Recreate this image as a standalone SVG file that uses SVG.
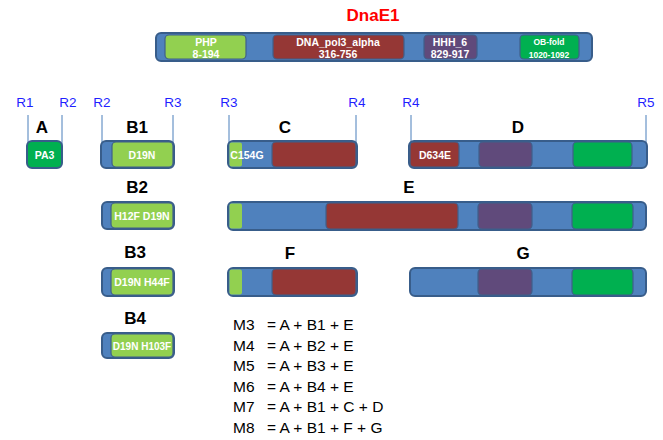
<svg xmlns="http://www.w3.org/2000/svg" width="663" height="440" viewBox="0 0 663 440">
<style>
.bar{fill:#4F81BD;stroke:#385D8A;stroke-width:2}
.seg{stroke:#3F5F8A;stroke-width:1.2}
.g{fill:#92D050}.r{fill:#953735}.p{fill:#604A7B}.o{fill:#00B050}
.wt{font-family:"Liberation Sans",Arial,sans-serif;font-weight:bold;fill:#fff;text-anchor:middle}
.lb{font-family:"Liberation Sans",Arial,sans-serif;font-weight:bold;font-size:17px;fill:#000;text-anchor:middle}
.rl{font-family:"Liberation Sans",Arial,sans-serif;font-size:13.5px;fill:#1F1FFF;text-anchor:middle}
.tick{stroke:#4A7EBB;stroke-width:1}
.fm{font-family:"Liberation Sans",Arial,sans-serif;font-size:15.5px;fill:#000}
</style>
<text x="373" y="21" font-family="Liberation Sans, Arial, sans-serif" font-weight="bold" font-size="17" fill="#FF0000" text-anchor="middle">DnaE1</text>
<g id="dnae1">
<rect class="bar" x="156" y="33" width="436" height="28" rx="5"/>
<rect class="seg g" x="165" y="35" width="81" height="24" rx="4"/>
<rect class="seg r" x="273" y="35" width="131" height="24" rx="4"/>
<rect class="seg p" x="424" y="35" width="53" height="24" rx="4"/>
<rect class="seg o" x="520" y="35" width="59" height="24" rx="4"/>
<text class="wt" x="206" y="45.5" font-size="10.5">PHP</text>
<text class="wt" x="206" y="58" font-size="10.5">8-194</text>
<text class="wt" x="338" y="45.5" font-size="10.5">DNA_pol3_alpha</text>
<text class="wt" x="338" y="58" font-size="10.5">316-756</text>
<text class="wt" x="450" y="45.5" font-size="10.5">HHH_6</text>
<text class="wt" x="450" y="58" font-size="10.5">829-917</text>
<text class="wt" x="549" y="45" font-size="8.5">OB-fold</text>
<text class="wt" x="549" y="58" font-size="8.5">1020-1092</text>
</g>
<g id="connectors">
<line class="tick" x1="28" y1="115" x2="28" y2="150"/>
<line class="tick" x1="62" y1="115" x2="62" y2="150"/>
<line class="tick" x1="102" y1="115" x2="102" y2="150"/>
<line class="tick" x1="173" y1="115" x2="173" y2="150"/>
<line class="tick" x1="229" y1="115" x2="229" y2="150"/>
<line class="tick" x1="356" y1="115" x2="356" y2="150"/>
<line class="tick" x1="411" y1="115" x2="411" y2="150"/>
<line class="tick" x1="646" y1="115" x2="646" y2="150"/>
</g>
<g id="rlabels">
<text class="rl" x="25" y="107">R1</text>
<text class="rl" x="68" y="107">R2</text>
<text class="rl" x="102" y="107">R2</text>
<text class="rl" x="173" y="107">R3</text>
<text class="rl" x="229" y="107">R3</text>
<text class="rl" x="357" y="107">R4</text>
<text class="rl" x="411" y="107">R4</text>
<text class="rl" x="646" y="107">R5</text>
</g>
<g id="A">
<text class="lb" x="42" y="133">A</text>
<rect class="bar o" x="27" y="141" width="35" height="27" rx="5"/>
<text class="wt" x="44.5" y="158.5" font-size="10.5">PA3</text>
</g>
<g id="B1">
<text class="lb" x="137" y="133">B1</text>
<rect class="bar" x="101" y="141" width="73" height="27" rx="5"/>
<rect class="seg g" x="112" y="142" width="61" height="25" rx="4"/>
<text class="wt" x="142" y="158.5" font-size="10.5">D19N</text>
</g>
<g id="C">
<text class="lb" x="285" y="133">C</text>
<rect class="bar" x="228" y="141" width="129" height="27" rx="5"/>
<rect class="g" x="229.5" y="142.5" width="12.5" height="24" rx="2"/>
<rect class="seg r" x="272" y="142" width="84" height="25" rx="4"/>
<text class="wt" x="247" y="158.5" font-size="10.5">C154G</text>
</g>
<g id="D">
<text class="lb" x="518" y="133">D</text>
<rect class="bar" x="409" y="141" width="238" height="27" rx="5"/>
<rect class="seg r" x="410" y="142" width="49" height="25" rx="4"/>
<rect class="seg p" x="479" y="142" width="53" height="25" rx="4"/>
<rect class="seg o" x="573" y="142" width="59" height="25" rx="4"/>
<text class="wt" x="435" y="158.5" font-size="10.5">D634E</text>
</g>
<g id="B2">
<text class="lb" x="137" y="193">B2</text>
<rect class="bar" x="102" y="202" width="72" height="27" rx="5"/>
<rect class="seg g" x="111" y="203" width="62" height="25" rx="4"/>
<text class="wt" x="142" y="219.5" font-size="10.5">H12F D19N</text>
</g>
<g id="E">
<text class="lb" x="409" y="193">E</text>
<rect class="bar" x="228" y="202" width="418" height="28" rx="5"/>
<rect class="g" x="229.5" y="203.5" width="12.5" height="25" rx="2"/>
<rect class="seg r" x="326" y="203" width="132" height="26" rx="4"/>
<rect class="seg p" x="478" y="203" width="54" height="26" rx="4"/>
<rect class="seg o" x="572" y="203" width="61" height="26" rx="4"/>
</g>
<g id="B3">
<text class="lb" x="135" y="258">B3</text>
<rect class="bar" x="102" y="268" width="72" height="28" rx="5"/>
<rect class="seg g" x="111" y="269" width="62" height="26" rx="4"/>
<text class="wt" x="142" y="286" font-size="10.5">D19N H44F</text>
</g>
<g id="F">
<text class="lb" x="290" y="259">F</text>
<rect class="bar" x="228" y="268" width="129" height="28" rx="5"/>
<rect class="g" x="229.5" y="269.5" width="12.5" height="25" rx="2"/>
<rect class="seg r" x="272" y="269" width="84" height="26" rx="4"/>
</g>
<g id="G">
<text class="lb" x="523" y="259">G</text>
<rect class="bar" x="410" y="268" width="236" height="28" rx="5"/>
<rect class="seg p" x="478" y="269" width="54" height="26" rx="4"/>
<rect class="seg o" x="572" y="269" width="61" height="26" rx="4"/>
</g>
<g id="B4">
<text class="lb" x="135" y="324">B4</text>
<rect class="bar" x="102" y="333" width="72" height="25" rx="5"/>
<rect class="seg g" x="111" y="334" width="62" height="23" rx="4"/>
<text class="wt" x="142" y="349.5" font-size="10">D19N H103F</text>
</g>
<g id="formulas">
<text class="fm" x="233" y="330">M3</text><text class="fm" x="267" y="330">= A + B1 + E</text>
<text class="fm" x="233" y="350.5">M4</text><text class="fm" x="267" y="350.5">= A + B2 + E</text>
<text class="fm" x="233" y="371">M5</text><text class="fm" x="267" y="371">= A + B3 + E</text>
<text class="fm" x="233" y="391.5">M6</text><text class="fm" x="267" y="391.5">= A + B4 + E</text>
<text class="fm" x="233" y="412">M7</text><text class="fm" x="267" y="412">= A + B1 + C + D</text>
<text class="fm" x="233" y="432.5">M8</text><text class="fm" x="267" y="432.5">= A + B1 + F + G</text>
</g>
</svg>
